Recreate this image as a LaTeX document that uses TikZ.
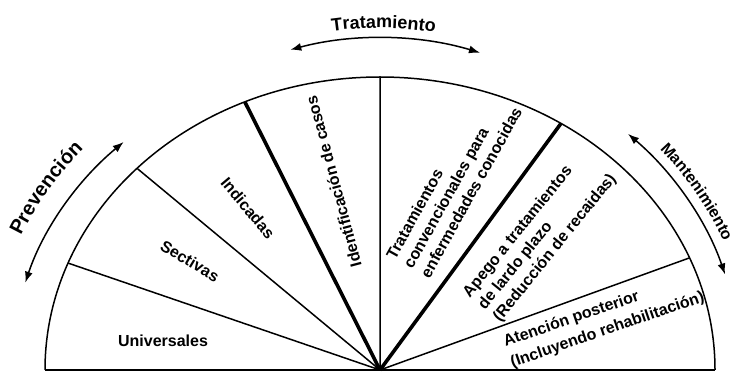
\documentclass[tikz,border=0pt]{standalone}
\usepackage{fontspec}
\setmainfont{Liberation Sans}
\usetikzlibrary{arrows.meta,decorations.text}

\begin{document}
\begin{tikzpicture}[x=1pt,y=1pt,
    thinspoke/.style={line width=1.5pt},
    thickspoke/.style={line width=3.6pt},
    sweep/.style={line width=1.5pt,{Latex[length=11pt,width=8pt]}-{Latex[length=11pt,width=8pt]}},
    lbl/.style={font=\bfseries\fontsize{16}{19.5}\selectfont,inner sep=0pt,align=left}]
    \useasboundingbox (0,0) rectangle (738,372);
    \coordinate (O) at (380,2);
    \path (O) ++(180:335pt and 293pt) coordinate (bl)
          (O) ++(0:335pt and 293pt) coordinate (br)
          (O) ++(158.6:335pt and 293pt) coordinate (s1)
          (O) ++(136.5:335pt and 293pt) coordinate (s2)
          (O) ++(113.8:335pt and 293pt) coordinate (s3)
          (O) ++(90:335pt and 293pt) coordinate (s4)
          (O) ++(57.3:335pt and 293pt) coordinate (s5)
          (O) ++(22.5:335pt and 293pt) coordinate (s6);
    \draw[thinspoke] (bl) arc[start angle=180,end angle=0,x radius=335pt,y radius=293pt];
    \draw[thinspoke] (bl) -- (br);
    \draw[thinspoke] (O) -- (s1) (O) -- (s2) (O) -- (s4) (O) -- (s6);
    \draw[thickspoke] (O) -- (s3) (O) -- (s5);

    \path (O) ++(134:369pt and 317pt) coordinate (p0)
          (O) ++(105.3:340pt and 332pt) coordinate (t0)
          (O) ++(46.6:361pt and 325pt) coordinate (m0);
    \draw[sweep] (p0) arc[start angle=134,end angle=164,x radius=369pt,y radius=317pt];
    \draw[sweep] (t0) arc[start angle=105.3,end angle=72.9,x radius=340pt,y radius=332pt];
    \draw[sweep] (m0) arc[start angle=46.6,end angle=17.1,x radius=361pt,y radius=325pt];

    \path (O) ++(171.5:391pt and 339pt) coordinate (pt)
          (O) ++(110:341pt and 342pt) coordinate (tt)
          (O) ++(55:372pt and 335pt) coordinate (mt);
    \path[decorate,decoration={text along path,text align=center,
        text={|\bfseries\fontsize{20}{20}\selectfont|Prevención}}]
        (pt) arc[start angle=171.5,end angle=125.5,x radius=391pt,y radius=339pt];
    \path[decorate,decoration={text along path,text align=center,
        text={|\bfseries\fontsize{18}{18}\selectfont|Tratamiento}}]
        (tt) arc[start angle=110,end angle=68.8,x radius=341pt,y radius=342pt];
    \path[decorate,decoration={text along path,text align=center,
        text={|\bfseries\fontsize{16}{16}\selectfont|Mantenimiento}}]
        (mt) arc[start angle=55,end angle=8,x radius=372pt,y radius=335pt];

    \node[lbl] (univ) at (163,31) {Universales};
    \node[lbl,rotate=-31] (sect) at (190,111) {Sectivas};
    \node[lbl,rotate=-50] (indic) at (248,164) {Indicadas};
    \node[lbl,rotate=105] (ident) at (333.5,190.5) {Identificación de casos};
    \node[lbl,rotate=61] (conv) at (454,189) {Tratamientos\\convencionales para\\enfermedades conocidas};
    \node[lbl,rotate=51] (apego) at (540,136) {Apego a tratamientos\\de lardo plazo\\(Reducción de recaidas)};
    \node[lbl,rotate=19,font=\bfseries\fontsize{16}{22}\selectfont] (post) at (604,52) {Atención posterior\\(Incluyendo rehabilitación)};
\end{tikzpicture}
\end{document}
